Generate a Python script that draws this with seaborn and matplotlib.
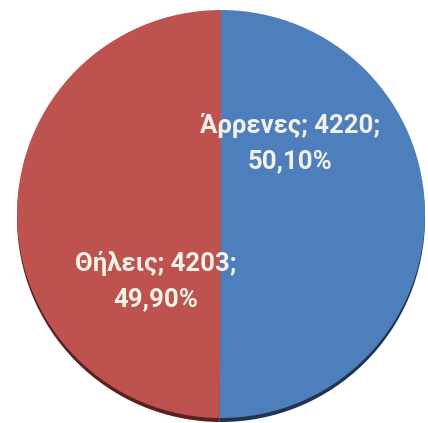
import numpy as np
import matplotlib
matplotlib.use('Agg')
import matplotlib.pyplot as plt
import seaborn as sns

# Data
labels = ['Άρρενες', 'Θήλεις']
values = [4220, 4203]
colors = ['#4D7FBC', '#BD524F']
rim_colors = ['#1E3450', '#5A2120']

sns.set_theme(style='white')
plt.rcParams['font.family'] = ['Roboto', 'DejaVu Sans']

total = sum(values)
pcts = [v / total * 100 for v in values]

fig = plt.figure(figsize=(4.28, 4.23), dpi=100)
ax = fig.add_axes([0, 0, 1, 1])

# dark rim underneath (3d look)
ax.pie(values, colors=rim_colors, startangle=90, counterclock=False,
       center=(221, 205), radius=204, frame=True,
       wedgeprops=dict(linewidth=0))
# main face
ax.pie(values, colors=colors, startangle=90, counterclock=False,
       center=(221, 209), radius=204, frame=True,
       wedgeprops=dict(linewidth=0))

ax.set_xlim(0, 428)
ax.set_ylim(0, 423)
ax.set_aspect('auto')
ax.axis('off')

label_pos = [(290, 280), (156, 142)]
for lab, v, p, (x, y) in zip(labels, values, pcts, label_pos):
    txt = f"{lab}; {v};\n{p:.2f}%".replace('.', ',')
    ax.text(x, y, txt, ha='center', va='center', fontsize=18.5,
            fontweight='bold', color='#F3F1E8', linespacing=1.55)

fig.savefig('out.png', dpi=100)
